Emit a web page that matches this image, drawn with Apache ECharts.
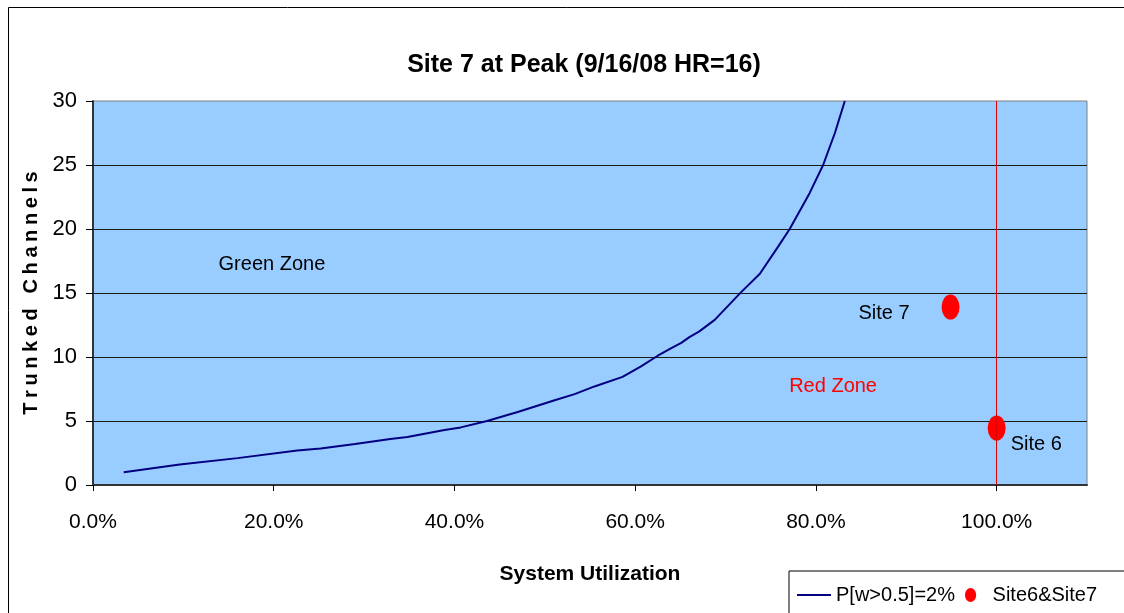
<!DOCTYPE html>
<html>
<head>
<meta charset="utf-8">
<script src="https://cdn.jsdelivr.net/npm/echarts@6/dist/echarts.min.js"></script>
<style>
  html, body { margin: 0; padding: 0; background: #fff; }
  #chart { width: 1124px; height: 613px; }
</style>
</head>
<body>
<div id="chart"></div>
<script>
// P[w>0.5]=2% curve: system utilization (%) vs. trunked channels
const curveUtil = [3.4, 9.6, 16.0, 22.6, 25.2, 29.0, 32.9, 34.8, 38.9, 40.7, 43.6, 47.0, 51.0, 53.3, 55.5, 58.6, 60.6, 62.5, 64.0, 65.1, 66.0, 67.1, 68.8, 71.7, 73.8, 75.8, 77.1, 79.3, 80.8, 82.1, 83.2];
const curveChannels = [1.0, 1.6, 2.1, 2.7, 2.85, 3.2, 3.6, 3.75, 4.3, 4.5, 5.0, 5.7, 6.6, 7.1, 7.7, 8.45, 9.25, 10.1, 10.7, 11.1, 11.55, 12.0, 12.9, 15.05, 16.5, 18.6, 20.0, 22.8, 25.0, 27.5, 30.0];

// Measured sites
const siteNames = ['Site 6', 'Site 7'];
const siteUtil = [100.0, 94.9];
const siteChannels = [4.45, 13.9];

// Axis ticks
const xTicks = [0, 20, 40, 60, 80, 100];
const yMax = 30;
const yStep = 5;
const xMax = 110;

const titleText = 'Site 7 at Peak (9/16/08 HR=16)';
const xTitle = 'System Utilization';
const yTitle = 'Trunked Channels';
const curveName = 'P[w>0.5]=2%';
const siteSeriesName = 'Site6&Site7';
const capacityLimit = 100;

// Zone annotations
const zoneLabels = ['Green Zone', 'Red Zone'];
const zoneUtil = [19.8, 81.9];
const zoneChannels = [17.2, 7.7];
const zoneColors = ['#000000', '#ff0000'];

const FONT = 'Arial, "Liberation Sans", Helvetica, sans-serif';
const ellipse = 'path://M0,10 A10,10 0 1 0 20,10 A10,10 0 1 0 0,10 Z';

const curveData = curveUtil.map((x, i) => [x, curveChannels[i]]);
const siteData = siteUtil.map((x, i) => {
  const right = siteNames[i] === 'Site 6';
  return {
    value: [x, siteChannels[i]],
    name: siteNames[i],
    label: right
      ? { position: 'right', distance: 5, offset: [0, 16] }
      : { position: 'left', distance: 32, offset: [0, 6] }
  };
});

// Letter-spaced vertical axis title built from rich fragments
const yTitleRich = yTitle.split('').map(ch => '{s|' + ch + '}').join('');

const chart = echarts.init(document.getElementById('chart'), null, { renderer: 'canvas' });

chart.setOption({
  animation: false,
  backgroundColor: '#ffffff',
  textStyle: { fontFamily: FONT },
  title: {
    text: titleText,
    left: 579,
    textAlign: 'center',
    top: 48,
    textStyle: { fontFamily: FONT, fontSize: 25, fontWeight: 'bold', color: '#000' }
  },
  graphic: [{
    type: 'rect',
    silent: true,
    z: -1,
    shape: { x: 8.5, y: 7.5, width: 1300, height: 800 },
    style: { fill: 'none', stroke: '#000', lineWidth: 1 }
  }],
  legend: {
    left: 789,
    top: 571,
    orient: 'horizontal',
    backgroundColor: '#fff',
    borderColor: '#000',
    borderWidth: 1,
    padding: [14, 30, 30, 8],
    itemWidth: 34,
    itemHeight: 14,
    itemGap: 10,
    symbolKeepAspect: true,
    textStyle: { fontFamily: FONT, fontSize: 20, color: '#000' },
    data: [
      { name: curveName, icon: 'path://M0,0 L34,0 L34,2 L0,2 Z', itemStyle: { color: '#000080' } },
      { name: siteSeriesName, icon: 'path://M8,0 A6,7.5 0 1 0 8,15 A6,7.5 0 1 0 8,0 Z' }
    ]
  },
  grid: {
    left: 93,
    top: 101,
    right: 37,
    bottom: 128,
    show: true,
    backgroundColor: '#99ccff',
    borderColor: '#808080',
    borderWidth: 1
  },
  xAxis: {
    type: 'value',
    min: 0,
    max: xMax,
    interval: 20,
    name: xTitle,
    nameLocation: 'middle',
    nameGap: 79,
    nameTextStyle: { fontFamily: FONT, fontSize: 21, fontWeight: 'bold', color: '#000' },
    axisLine: { show: true, onZero: false, lineStyle: { color: '#333', width: 2 } },
    axisTick: { show: true, length: 6, customValues: xTicks, lineStyle: { color: '#000' } },
    axisLabel: {
      customValues: xTicks,
      margin: 27,
      fontFamily: FONT,
      fontSize: 21,
      color: '#000',
      formatter: v => v.toFixed(1) + '%'
    },
    splitLine: { show: false }
  },
  yAxis: {
    type: 'value',
    min: 0,
    max: yMax,
    interval: yStep,
    name: yTitleRich,
    nameLocation: 'middle',
    nameRotate: 90,
    nameGap: 47,
    nameTextStyle: {
      rich: { s: { fontFamily: FONT, fontSize: 20, fontWeight: 'bold', color: '#000', padding: [0, 2.3] } }
    },
    axisLine: { show: true, lineStyle: { color: '#333', width: 2 } },
    axisTick: { show: true, length: 7, lineStyle: { color: '#000' } },
    axisLabel: { margin: 16, fontFamily: FONT, fontSize: 22, color: '#000' },
    splitLine: { show: true, showMinLine: false, showMaxLine: false, lineStyle: { color: '#1a1a1a', width: 1 } }
  },
  series: [
    {
      name: curveName,
      type: 'line',
      data: curveData,
      symbol: 'none',
      smooth: false,
      lineStyle: { color: '#000080', width: 2 },
      itemStyle: { color: '#000080' },
      markPoint: {
        silent: true,
        symbol: 'circle',
        symbolSize: 0,
        data: zoneLabels.map((t, i) => ({
          coord: [zoneUtil[i], zoneChannels[i]],
          label: {
            show: true,
            formatter: t,
            position: 'inside',
            fontFamily: FONT,
            fontSize: 20,
            color: zoneColors[i]
          }
        }))
      }
    },
    {
      name: siteSeriesName,
      type: 'scatter',
      data: siteData,
      symbol: ellipse,
      symbolSize: [18, 25],
      itemStyle: { color: '#ff0000', opacity: 1 },
      label: {
        show: true,
        formatter: p => p.name,
        fontFamily: FONT,
        fontSize: 20,
        color: '#000'
      },
      markLine: {
        silent: true,
        symbol: 'none',
        label: { show: false },
        lineStyle: { color: '#e00000', width: 1, type: 'solid' },
        data: [{ xAxis: capacityLimit }]
      },
      z: 3
    }
  ]
});
</script>
</body>
</html>
